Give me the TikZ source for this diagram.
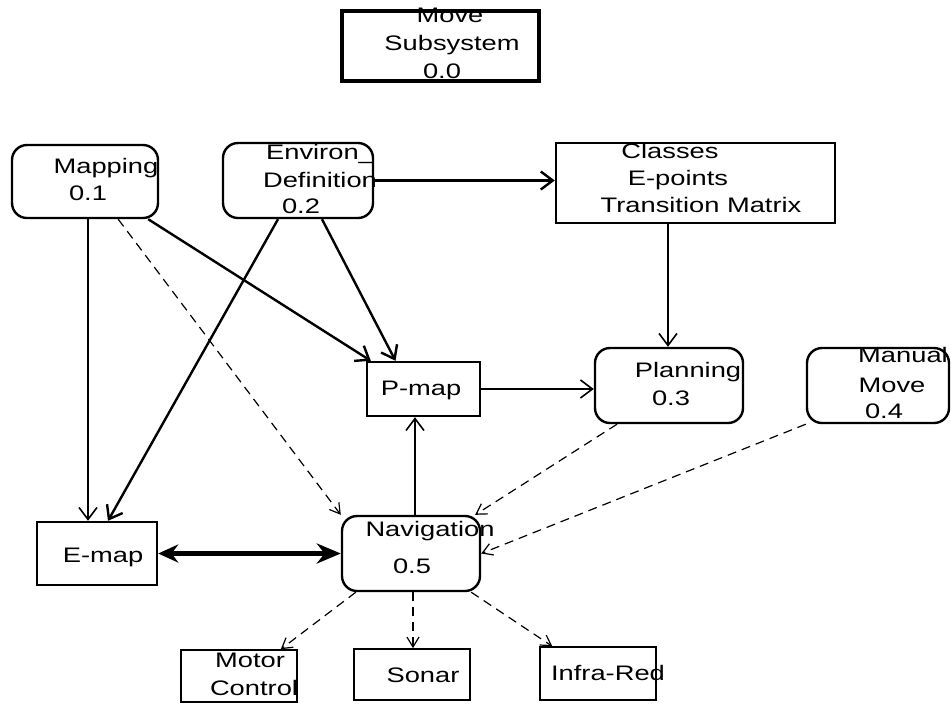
\documentclass[tikz,border=0pt]{standalone}
\usepackage{fontspec}
\setmainfont{Liberation Sans}[FakeStretch=1.3]
\usetikzlibrary{arrows.meta}

\tikzset{
  store/.style={draw, line width=1.2pt, inner sep=0pt},
  proc/.style={store, rounded corners=7.5pt},
  term/.style={store, line width=0.8pt},
  lbl/.style={anchor=base, inner sep=0pt, font=\fontsize{10.5}{12}\selectfont},
  flow/.style={line width=1.2pt, -{Straight Barb[length=6pt,width=9pt]}},
  thinflow/.style={flow, line width=0.8pt},
  ctrl/.style={line width=0.6pt, dash pattern=on 4.5pt off 3pt,
    -{Straight Barb[length=5pt,width=6pt]}},
  both/.style={line width=2.2pt,
    {Stealth[length=10pt,width=9pt]}-{Stealth[length=12pt,width=10pt]}}
}

\begin{document}
\begin{tikzpicture}[x=0.5pt,y=-0.5pt]
  \useasboundingbox (0,0) rectangle (951,703);
  % boxes
  \node[store, line width=1.7pt, minimum width=98.5pt, minimum height=35pt] (mv) at (440.5,46) {};
  \node[proc, minimum width=73pt, minimum height=36.5pt] (map) at (85,181.5) {};
  \node[proc, minimum width=75pt, minimum height=37.5pt] (env) at (298,180.5) {};
  \node[store, minimum width=139.5pt, minimum height=40pt] (cls) at (695.5,183) {};
  \node[store, minimum width=56.5pt, minimum height=27pt] (pmap) at (423.5,389) {};
  \node[proc, minimum width=74pt, minimum height=37.5pt] (plan) at (669,385.5) {};
  \node[proc, minimum width=71pt, minimum height=37.5pt] (man) at (878,385.5) {};
  \node[proc, minimum width=69pt, minimum height=37.5pt] (nav) at (411,553.5) {};
  \node[store, minimum width=60pt, minimum height=31.5pt] (emap) at (97,553.5) {};
  \node[term, minimum width=58pt, minimum height=26pt] (mot) at (239,676) {};
  \node[term, minimum width=58pt, minimum height=25.5pt] (son) at (412,674.5) {};
  \node[term, minimum width=58pt, minimum height=26.5pt] (ir) at (598,673.5) {};
  % texts
  \node[lbl] (mv1) at (450,22) {Move};
  \node[lbl] (mv2) at (452,50) {Subsystem};
  \node[lbl] (mv3) at (442,78) {0.0};
  \node[lbl] (map1) at (106,173) {Mapping};
  \node[lbl] (map2) at (88,200) {0.1};
  \node[lbl] (env1) at (320,159) {Environ\_};
  \node[lbl] (env2) at (320,187) {Definition};
  \node[lbl] (env3) at (301,213) {0.2};
  \node[lbl] (cls1) at (670,158) {Classes};
  \node[lbl] (cls2) at (678,185) {E-points};
  \node[lbl] (cls3) at (701,212) {Transition Matrix};
  \node[lbl] (pmap1) at (421,395) {P-map};
  \node[lbl] (plan1) at (688,377) {Planning};
  \node[lbl] (plan2) at (671,405) {0.3};
  \node[lbl] (man1) at (903,362) {Manual};
  \node[lbl] (man2) at (892,392) {Move};
  \node[lbl] (man3) at (884,418) {0.4};
  \node[lbl] (nav1) at (430,536) {Navigation};
  \node[lbl] (nav2) at (412,573) {0.5};
  \node[lbl] (emap1) at (103,562) {E-map};
  \node[lbl] (mot1) at (250,667) {Motor};
  \node[lbl] (mot2) at (254,695) {Control};
  \node[lbl] (son1) at (423,682) {Sonar};
  \node[lbl] (ir1) at (608,680) {Infra-Red};
  % data flows
  \draw[thinflow] ([xshift=1.5pt]map.south) -- ([xshift=1.5pt]map.south |- emap.north);
  \draw[flow] ([xshift=-5.5pt]map.south east) -- ([xshift=2.5pt]pmap.north west);
  \draw[flow] ([xshift=-10pt]env.south) -- ([xshift=5.5pt]emap.north);
  \draw[flow] ([xshift=12pt]env.south) -- ([xshift=-14pt]pmap.north);
  \draw[flow] (env.east) -- (env.east -| cls.west);
  \draw[thinflow] ([xshift=-13.75pt]cls.south) -- ([xshift=-13.75pt]cls.south |- plan.north);
  \draw[thinflow] (pmap.east) -- (pmap.east -| plan.west);
  \draw[thinflow] ([xshift=2pt]nav.north) -- ([xshift=2pt]nav.north |- pmap.south);
  \draw[both] (emap.east) -- (nav.west);
  % control flows
  \draw[ctrl] ([xshift=-20.5pt]map.south east) -- (nav.north west);
  \draw[ctrl] ([xshift=-26pt]plan.south) -- ([xshift=-3pt]nav.north east);
  \draw[ctrl] (man.south west) -- (nav.east);
  \draw[ctrl] ([xshift=7.5pt]nav.south west) -- ([xshift=-8.5pt]mot.north east);
  \draw[ctrl] ([xshift=1pt]nav.south) -- ([xshift=1pt]nav.south |- son.north);
  \draw[ctrl] ([xshift=-5pt]nav.south east) -- ([xshift=6.5pt]ir.north west);
\end{tikzpicture}
\end{document}
